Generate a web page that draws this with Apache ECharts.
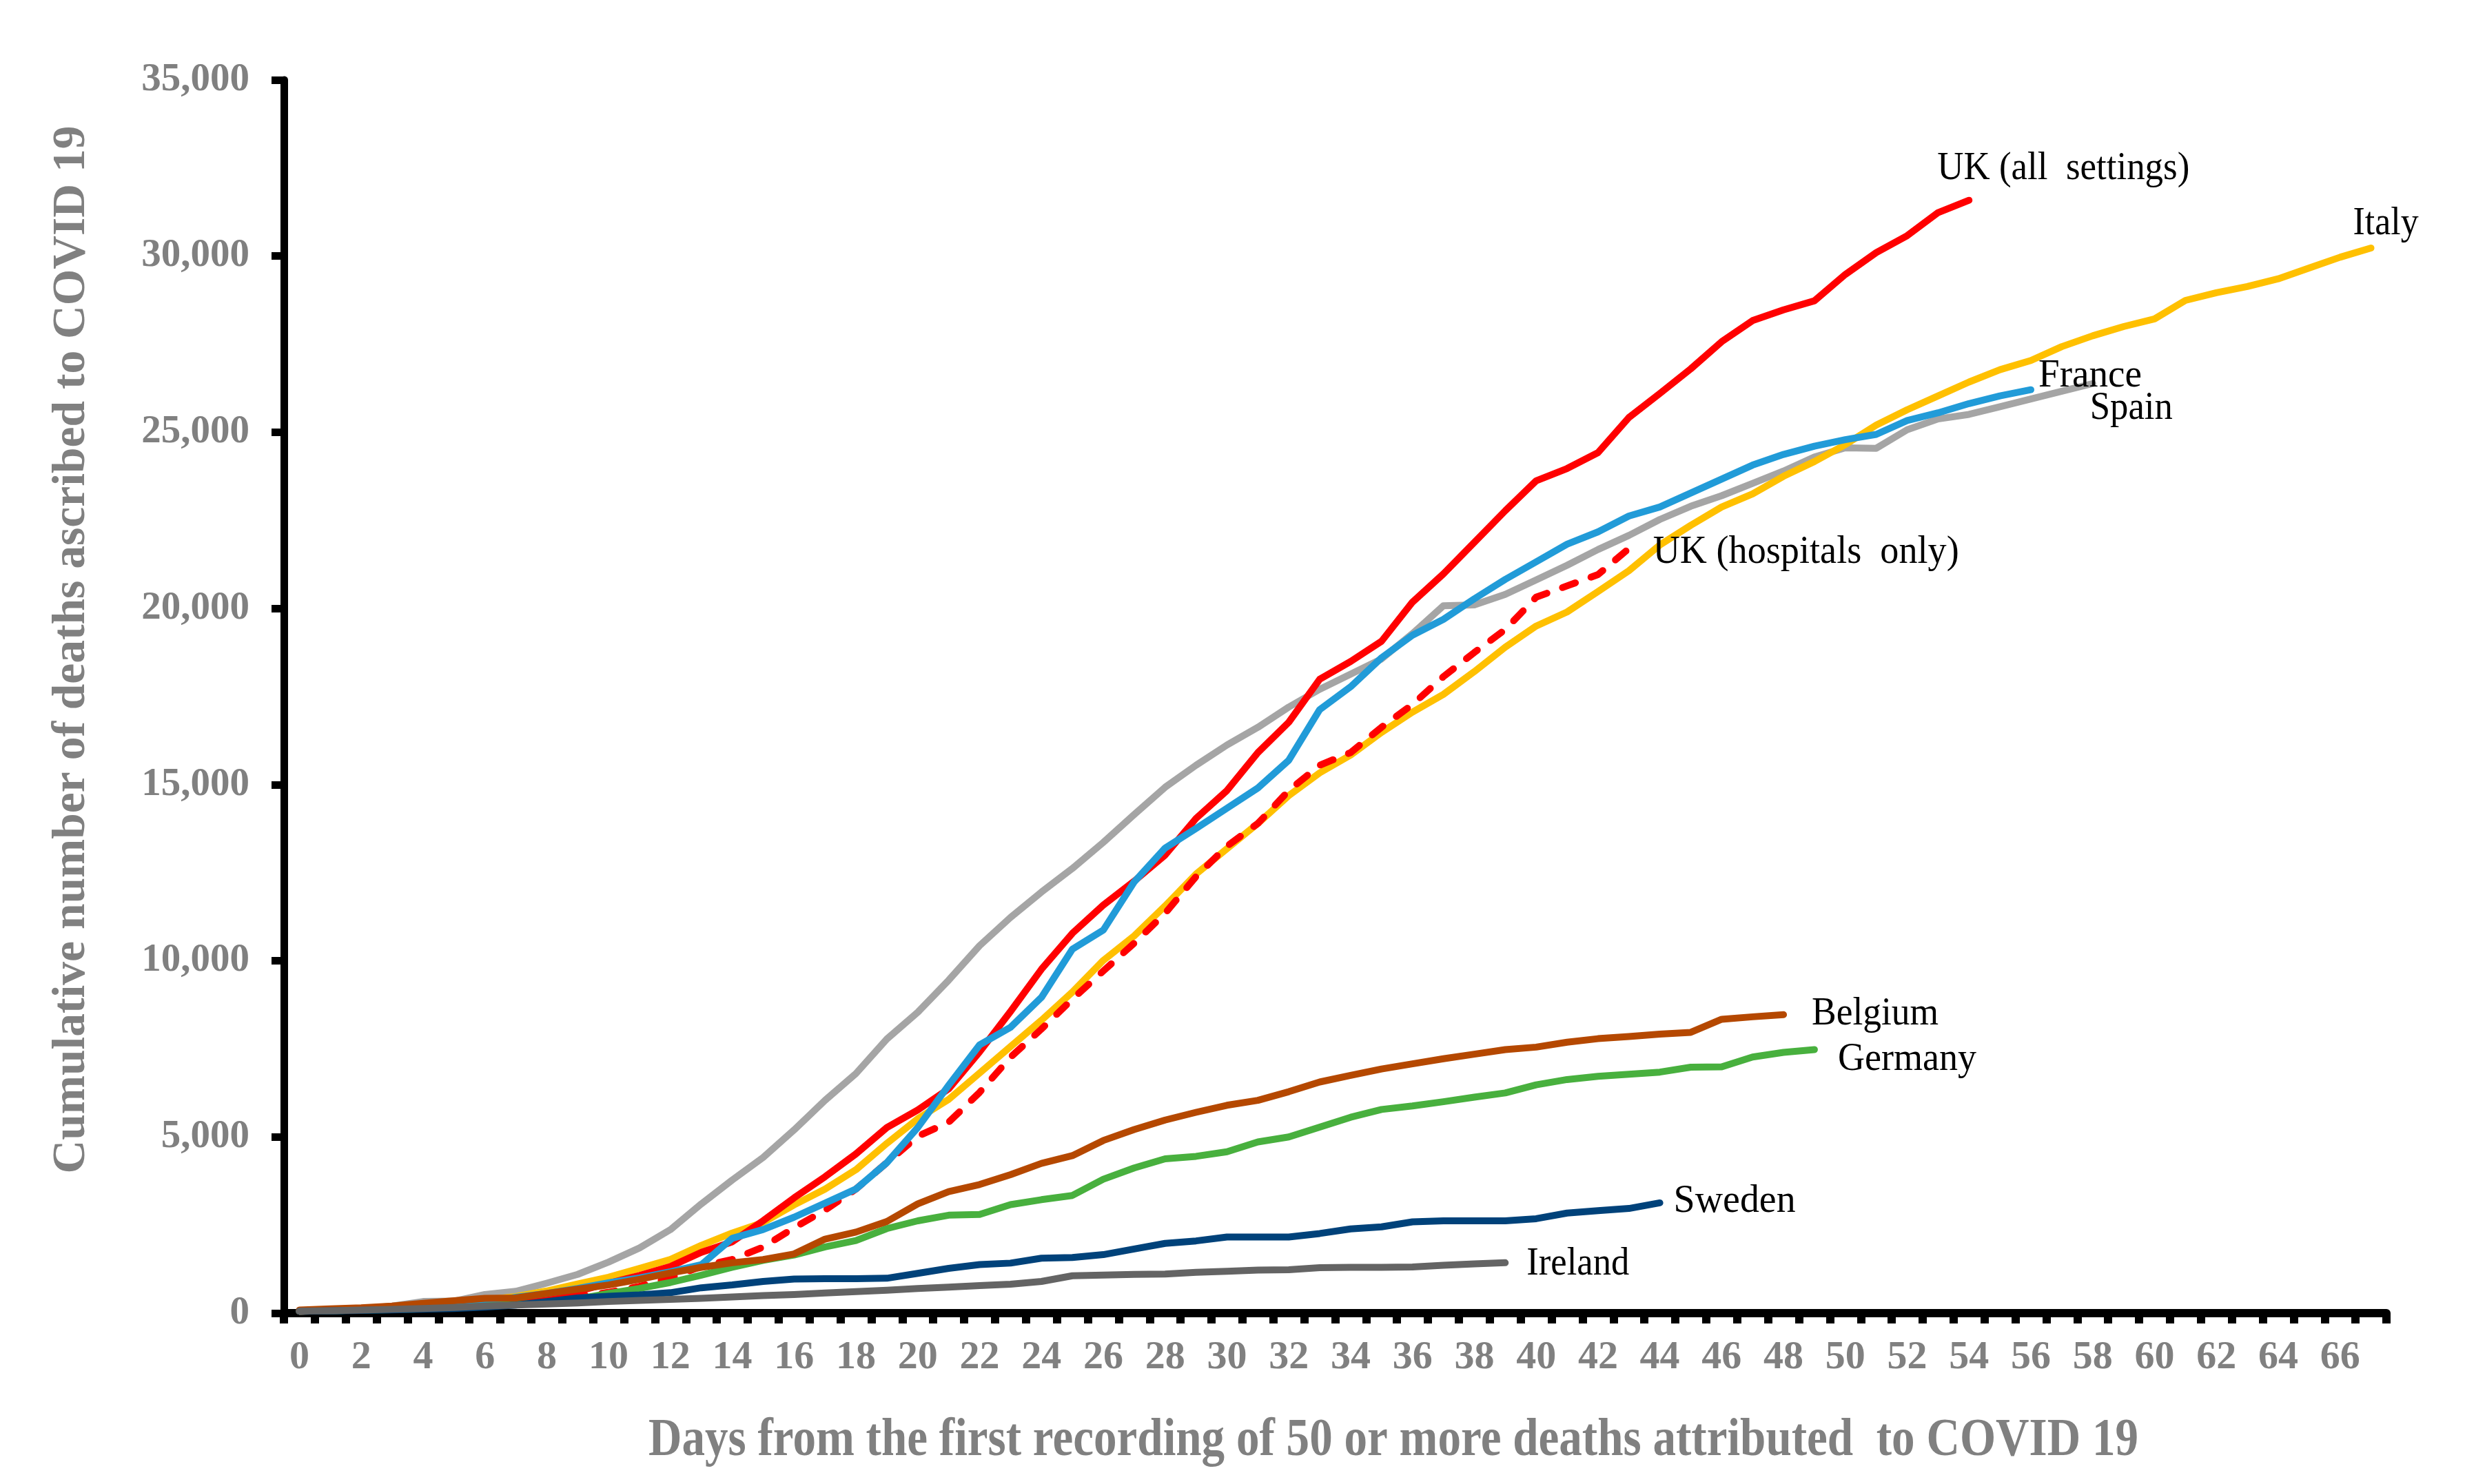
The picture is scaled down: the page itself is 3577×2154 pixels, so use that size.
<!DOCTYPE html>
<html>
<head>
<meta charset="utf-8">
<title>Cumulative deaths ascribed to COVID 19</title>
<script src="https://cdn.jsdelivr.net/npm/echarts@6/dist/echarts.min.js"></script>
<style>
html, body { margin: 0; padding: 0; background: #ffffff; }
#chart { width: 3577px; height: 2154px; }
</style>
</head>
<body>
<div id="chart"></div>
<script>
// ---------------- data ----------------
const days = [0,1,2,3,4,5,6,7,8,9,10,11,12,13,14,15,16,17,18,19,20,21,22,23,24,25,26,27,28,29,30,31,32,33,34,35,36,37,38,39,40,41,42,43,44,45,46,47,48,49,50,51,52,53,54,55,56,57,58,59,60,61,62,63,64,65,66,67];
const yTickValues = [0, 5000, 10000, 15000, 20000, 25000, 30000, 35000];

const italy = [55,80,110,150,200,240,370,470,630,830,1020,1270,
  1525,1924,2274,2573,3072,3521,4070,4819,5517,6066,
  6815,7564,8312,9111,10009,10708,11557,12462,13180,13898,
  14688,15335,15838,16484,17058,17561,18207,18900,19500,19900,
  20480,21070,21800,22360,22880,23250,23750,24170,24650,25202,
  25640,26033,26426,26776,27038,27431,27738,28000,28218,28743,
  28962,29136,29355,29661,29967,30229];
const ukAll = [55,70,100,140,180,240,300,370,470,620,850,1070,
  1325,1725,2024,2623,3271,3870,4519,5268,5767,6366,
  7414,8562,9760,10780,11580,12260,13000,14042,14832,15910,
  16771,17992,18495,19069,20180,20980,21873,22772,23621,23971,
  24421,25420,26100,26800,27570,28170,28475,28730,29480,30098,
  30579,31235,31585];
const ukHospitals = [55,70,100,140,180,230,280,340,420,470,590,760,
  1000,1325,1524,1874,2424,2922,3521,4270,5019,5418,
  6266,7265,8063,8911,9710,10500,11350,12390,13252,13898,
  14832,15550,15910,16628,17274,18064,18750,19400,20320,20640,
  20960,21700];
const france = [55,70,90,120,150,180,300,450,560,700,860,1000,
  1175,1375,2124,2373,2723,3122,3521,4270,5268,6466,
  7614,8113,8961,10330,10870,12240,13200,13755,14329,14904,
  15693,17130,17777,18600,19240,19690,20274,20824,21323,21823,
  22173,22622,22880,23276,23672,24068,24371,24605,24790,24940,
  25333,25552,25814,26033,26208];
const spain = [55,85,120,200,330,340,530,620,850,1100,1450,1850,
  2370,3100,3780,4420,5200,6040,6800,7780,8540,9450,
  10430,11230,11950,12620,13360,14150,14926,15550,16125,16626,
  17202,17705,18136,18567,19285,20075,20100,20400,20810,21224,
  21673,22073,22525,22900,23200,23550,23900,24300,24560,24546,
  25071,25377,25508,25726,25945,26164,26382];
const belgium = [90,120,150,200,280,350,420,430,560,680,800,960,
  1140,1300,1430,1520,1680,2100,2300,2600,3100,3450,
  3650,3930,4250,4470,4900,5210,5480,5700,5900,6040,
  6285,6560,6750,6930,7075,7220,7350,7480,7550,7690,
  7790,7850,7920,7970,8340,8410,8470];
const germany = [55,70,90,100,120,150,200,250,300,400,560,700,
  870,1080,1300,1500,1650,1880,2060,2400,2620,2780,
  2800,3080,3220,3340,3800,4120,4380,4450,4580,4860,
  5000,5280,5560,5780,5880,6000,6130,6250,6480,6630,
  6720,6780,6840,6980,6990,7270,7400,7480];
const sweden = [55,65,80,95,110,130,170,230,330,430,480,520,
  580,720,800,900,970,980,980,990,1130,1270,
  1380,1420,1560,1580,1660,1820,1980,2050,2160,2160,
  2160,2260,2390,2450,2590,2620,2620,2620,2680,2840,
  2910,2970,3130];
const ireland = [60,70,90,110,130,160,200,230,260,290,330,360,
  390,420,460,500,530,570,610,650,700,740,
  780,820,900,1060,1080,1100,1110,1160,1190,1220,
  1230,1290,1300,1300,1310,1360,1400,1430];

const xAxisTitle = 'Days from the first recording of 50 or more deaths attributed  to COVID 19';
const yAxisTitle = 'Cumulative number of deaths ascribed to COVID 19';

// ---------------- styling ----------------
const SERIF = '"Liberation Serif", "Times New Roman", Times, serif';
const GREY = '#808080';
const LABEL_FS = 57;

// drawing order: later entries are drawn on top
const seriesDefs = [
  { name: 'Spain',  label: 'Spain', data: spain, color: '#A5A5A5', dx: -4,  dy: 56,  w: 120 },
  { name: 'Italy',  label: 'Italy', data: italy, color: '#FFC000', dx: -26, dy: -16, w: 95 },
  { name: 'UK (hospitals only)', label: 'UK (hospitals  only)', data: ukHospitals, color: '#FF0000', dash: true, dx: 35, dy: 25, w: 444 },
  { name: 'UK (all settings)', label: 'UK (all  settings)', data: ukAll, color: '#FF0000', dx: -46, dy: -26, w: 366 },
  { name: 'France', label: 'France', data: france, color: '#219BD8', dx: 11, dy: 0, w: 150 },
  { name: 'Germany', label: 'Germany', data: germany, color: '#48B03E', dx: 34, dy: 34, w: 201 },
  { name: 'Belgium', label: 'Belgium', data: belgium, color: '#B54800', dx: 41, dy: 18, w: 184 },
  { name: 'Sweden', label: 'Sweden', data: sweden, color: '#00427A', dx: 20, dy: 17, w: 177 },
  { name: 'Ireland', label: 'Ireland', data: ireland, color: '#646464', dx: 31, dy: 21, w: 149 }
];

const chart = echarts.init(document.getElementById('chart'), null, { renderer: 'canvas', width: 3577, height: 2154 });

function fmtThousands(v) {
  return String(v).replace(/\B(?=(\d{3})+(?!\d))/g, ',');
}

chart.setOption({
  animation: false,
  backgroundColor: '#ffffff',
  grid: { left: 412, right: 114, top: 116, bottom: 248, containLabel: false },
  xAxis: {
    type: 'category',
    data: days,
    boundaryGap: true,
    axisLine: { show: true, lineStyle: { color: '#000000', width: 12 } },
    axisTick: { show: true, interval: 0, length: 15, lineStyle: { color: '#000000', width: 12 } },
    axisLabel: { interval: 1, margin: 36, color: GREY, fontFamily: SERIF, fontWeight: 'bold', fontSize: 58 },
    splitLine: { show: false }
  },
  yAxis: {
    type: 'value',
    min: yTickValues[0],
    max: yTickValues[yTickValues.length - 1],
    interval: yTickValues[1] - yTickValues[0],
    axisLine: { show: true, lineStyle: { color: '#000000', width: 11 } },
    axisTick: { show: true, length: 18, lineStyle: { color: '#000000', width: 11 } },
    axisLabel: { margin: 50, color: GREY, fontFamily: SERIF, fontWeight: 'bold', fontSize: 57, formatter: fmtThousands },
    splitLine: { show: false }
  },
  series: seriesDefs.map(s => ({
    name: s.name,
    type: 'line',
    data: s.data,
    symbol: 'none',
    smooth: false,
    clip: false,
    itemStyle: { color: s.color },
    lineStyle: {
      color: s.color,
      width: 10,
      cap: 'round',
      join: 'round',
      type: s.dash ? [20, 24] : 'solid'
    }
  }))
});

// ---------------- text (labels and axis titles) ----------------
const mctx = document.createElement('canvas').getContext('2d');
function measure(text, weight, size) {
  mctx.font = weight + ' ' + size + 'px ' + SERIF;
  return mctx.measureText(text).width;
}
function textEl(opts) {
  const font = opts.weight + ' ' + opts.size + 'px ' + SERIF;
  return {
    type: 'text',
    x: opts.x, y: opts.y,
    rotation: opts.rotation || 0,
    scaleX: opts.scaleX || 1,
    silent: true,
    z: 100,
    style: {
      text: opts.text, font: font, fill: opts.fill,
      align: opts.align, textAlign: opts.align,
      verticalAlign: 'middle', textVerticalAlign: 'middle'
    }
  };
}

const graphics = [];
seriesDefs.forEach(s => {
  const last = s.data.length - 1;
  const p = chart.convertToPixel({ xAxisIndex: 0, yAxisIndex: 0 }, [last, s.data[last]]);
  const sx = s.w / measure(s.label, 'normal', LABEL_FS);
  graphics.push(textEl({
    text: s.label, weight: 'normal', size: LABEL_FS, fill: '#000000', align: 'left',
    x: p[0] + s.dx, y: p[1] + s.dy - 0.3375 * LABEL_FS, scaleX: sx
  }));
});

// x axis title (centred under the axis)
const XT_FS = 78;
graphics.push(textEl({
  text: xAxisTitle, weight: 'bold', size: XT_FS, fill: GREY, align: 'center',
  x: 2022, y: 2118 - 0.3375 * XT_FS, scaleX: 2162 / measure(xAxisTitle, 'bold', XT_FS)
}));
// y axis title (rotated)
const YT_FS = 67;
graphics.push(textEl({
  text: yAxisTitle, weight: 'bold', size: YT_FS, fill: GREY, align: 'center',
  x: 127 - 0.3375 * YT_FS, y: 943, rotation: Math.PI / 2,
  scaleX: 1521 / measure(yAxisTitle, 'bold', YT_FS)
}));

chart.setOption({ graphic: graphics });
</script>
</body>
